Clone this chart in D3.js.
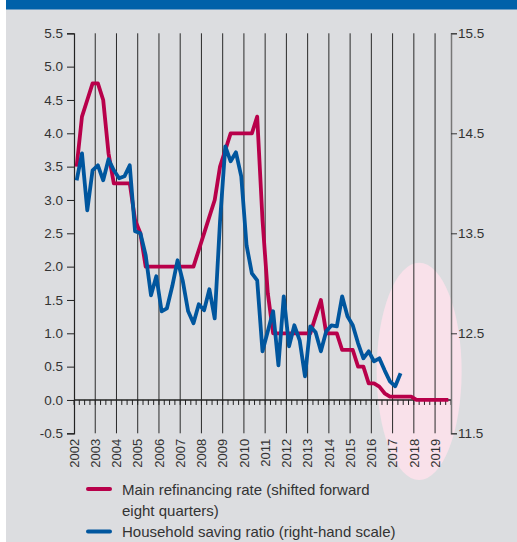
<!DOCTYPE html>
<html>
<head>
<meta charset="utf-8">
<script src="https://cdn.jsdelivr.net/npm/d3@7"></script>
<style>
  body { margin: 0; background: #fff; }
  text { font-family: "Liberation Sans", Arial, sans-serif; fill: #333; }
</style>
</head>
<body>
<div id="chart"></div>
<script>
// quarterly data, first quarter is 2002 Q1
var startYear = 2002;
var endYear = 2019.75;

// main refinancing rate, shifted forward eight quarters (left scale, %)
var refiRate = [
  3.5, 4.25, 4.5, 4.75,
  4.75, 4.5, 3.7, 3.25,
  3.25, 3.25, 3.25, 2.7,
  2.5, 2.0, 2.0, 2.0,
  2.0, 2.0, 2.0, 2.0,
  2.0, 2.0, 2.0, 2.25,
  2.5, 2.75, 3.0, 3.5,
  3.75, 4.0, 4.0, 4.0,
  4.0, 4.0, 4.25, 2.7,
  1.6, 1.0, 1.0, 1.0,
  1.0, 1.0, 1.0, 1.0,
  1.0, 1.25, 1.5, 1.0,
  1.0, 1.0, 0.75, 0.75,
  0.75, 0.5, 0.5, 0.25,
  0.25, 0.2, 0.1, 0.05,
  0.05, 0.05, 0.05, 0.05,
  0.0, 0.0, 0.0, 0.0,
  0.0, 0.0, 0.0
];

// household saving ratio (right scale, %)
var savingRatio = [
  14.03, 14.30, 13.73, 14.13,
  14.18, 14.03, 14.24, 14.13,
  14.05, 14.07, 14.18, 13.52,
  13.50, 13.28, 12.88, 13.07,
  12.72, 12.75, 12.97, 13.23,
  13.02, 12.72, 12.60, 12.79,
  12.73, 12.94, 12.65, 13.62,
  14.37, 14.22, 14.31, 14.07,
  13.38, 13.10, 13.03, 12.32,
  12.52, 12.72, 12.18, 12.87,
  12.37, 12.58, 12.43, 12.07,
  12.57, 12.51, 12.32, 12.52,
  12.58, 12.57, 12.87, 12.67,
  12.58, 12.40, 12.25, 12.32,
  12.22, 12.25, 12.13, 12.02,
  11.97, 12.10
];

var yearTicks = d3.range(2002, 2020);
var leftTicks = [-0.5, 0, 0.5, 1, 1.5, 2, 2.5, 3, 3.5, 4, 4.5, 5, 5.5];
var rightTicks = [11.5, 12.5, 13.5, 14.5, 15.5];

var legendItems = [
  {lines: ["Main refinancing rate (shifted forward", "eight quarters)"], color: "#b8004a"},
  {lines: ["Household saving ratio (right-hand scale)"], color: "#00569e"}
];

// highlighted forecast region (centre year, centre value on left scale, half-widths)
var highlight = {year: 2018.25, value: 0.43, halfYears: 2.0, halfValue: 1.63};

(function() {
  var width = 517, height = 542;
  var left = 74, right = 451, top = 33.3, bottom = 433.3;

  var svg = d3.select("#chart").append("svg")
      .attr("width", width)
      .attr("height", height);

  svg.append("rect")
      .attr("x", 6).attr("y", 0)
      .attr("width", width - 6).attr("height", height)
      .attr("fill", "#dcdde0");

  svg.append("rect")
      .attr("x", 6).attr("y", 0)
      .attr("width", width - 6).attr("height", 9.5)
      .attr("fill", "#0061a9");

  var x = d3.scaleLinear().domain([startYear, endYear]).range([left, right]);
  var yL = d3.scaleLinear().domain([-0.5, 5.5]).range([bottom, top]);
  var yR = d3.scaleLinear().domain([11.5, 15.5]).range([bottom, top]);

  var quarter = i => startYear + i / 4 + 0.125;

  // highlight ellipse
  svg.append("ellipse")
      .attr("cx", x(highlight.year))
      .attr("cy", yL(highlight.value))
      .attr("rx", x(highlight.year + highlight.halfYears) - x(highlight.year))
      .attr("ry", yL(highlight.value) - yL(highlight.value + highlight.halfValue))
      .attr("fill", "#f9e1ea");

  // year grid lines
  svg.append("g").selectAll("line")
      .data(yearTicks.slice(1))
      .enter().append("line")
      .attr("x1", d => x(d)).attr("x2", d => x(d))
      .attr("y1", top).attr("y2", bottom)
      .attr("stroke", "#2a2a2a")
      .attr("stroke-width", 1);

  // zero line with quarterly ticks
  svg.append("line")
      .attr("x1", left).attr("x2", right)
      .attr("y1", yL(0)).attr("y2", yL(0))
      .attr("stroke", "#222")
      .attr("stroke-width", 1.4);

  var quarterTicks = d3.range(startYear * 4, endYear * 4 + 1).map(q => q / 4);
  svg.append("g").selectAll("line")
      .data(quarterTicks)
      .enter().append("line")
      .attr("x1", d => x(d)).attr("x2", d => x(d))
      .attr("y1", yL(0)).attr("y2", yL(0) + 5)
      .attr("stroke", "#222")
      .attr("stroke-width", 1);

  // left axis
  var axisL = svg.append("g")
      .attr("transform", "translate(" + left + ",0)")
      .call(d3.axisLeft(yL).tickValues(leftTicks).tickFormat(d3.format(".1f"))
        .tickSize(7).tickPadding(4));
  axisL.select(".domain").attr("stroke", "#222").attr("stroke-width", 1.2);
  axisL.selectAll(".tick line").attr("stroke", "#222");
  axisL.selectAll("text")
      .text(d => d3.format(".1f")(d).replace("\u2212", "-"))
      .attr("font-size", 13.5)
      .attr("font-family", "Liberation Sans, Arial, sans-serif")
      .attr("fill", "#333");

  // right axis
  var axisR = svg.append("g")
      .attr("transform", "translate(" + right + ",0)")
      .call(d3.axisRight(yR).tickValues(rightTicks).tickFormat(d3.format(".1f"))
        .tickSize(6).tickPadding(1));
  axisR.select(".domain").attr("stroke", "#777").attr("stroke-width", 1.5);
  axisR.selectAll(".tick line").attr("stroke", "#333");
  axisR.selectAll("text")
      .attr("font-size", 13.5)
      .attr("font-family", "Liberation Sans, Arial, sans-serif")
      .attr("fill", "#333");

  // year labels
  svg.append("g").selectAll("text")
      .data(yearTicks)
      .enter().append("text")
      .attr("transform", d => "translate(" + x(d) + "," + (bottom + 5.5) + ") rotate(-90)")
      .attr("dy", "0.36em")
      .attr("text-anchor", "end")
      .attr("font-size", 13)
      .text(d => d);

  // series
  var lineL = d3.line().x((d, i) => x(quarter(i))).y(d => yL(d));
  var lineR = d3.line().x((d, i) => x(quarter(i))).y(d => yR(d));

  svg.append("path")
      .attr("d", lineL(refiRate))
      .attr("fill", "none")
      .attr("stroke", legendItems[0].color)
      .attr("stroke-width", 3.8)
      .attr("stroke-linejoin", "round");

  svg.append("path")
      .attr("d", lineR(savingRatio))
      .attr("fill", "none")
      .attr("stroke", legendItems[1].color)
      .attr("stroke-width", 3.8)
      .attr("stroke-linejoin", "round");

  // legend
  var legend = svg.append("g").attr("transform", "translate(88,489)");
  var rowY = [0, 42.5];
  legendItems.forEach((item, i) => {
    var g = legend.append("g").attr("transform", "translate(0," + rowY[i] + ")");
    g.append("line")
        .attr("x1", 0).attr("x2", 22)
        .attr("stroke", item.color)
        .attr("stroke-width", 4)
        .attr("stroke-linecap", "round");
    item.lines.forEach((t, j) => {
      g.append("text")
          .attr("x", 34)
          .attr("y", 5.5 + j * 21.5)
          .attr("font-size", 15)
          .text(t);
    });
  });
})();
</script>
</body>
</html>
